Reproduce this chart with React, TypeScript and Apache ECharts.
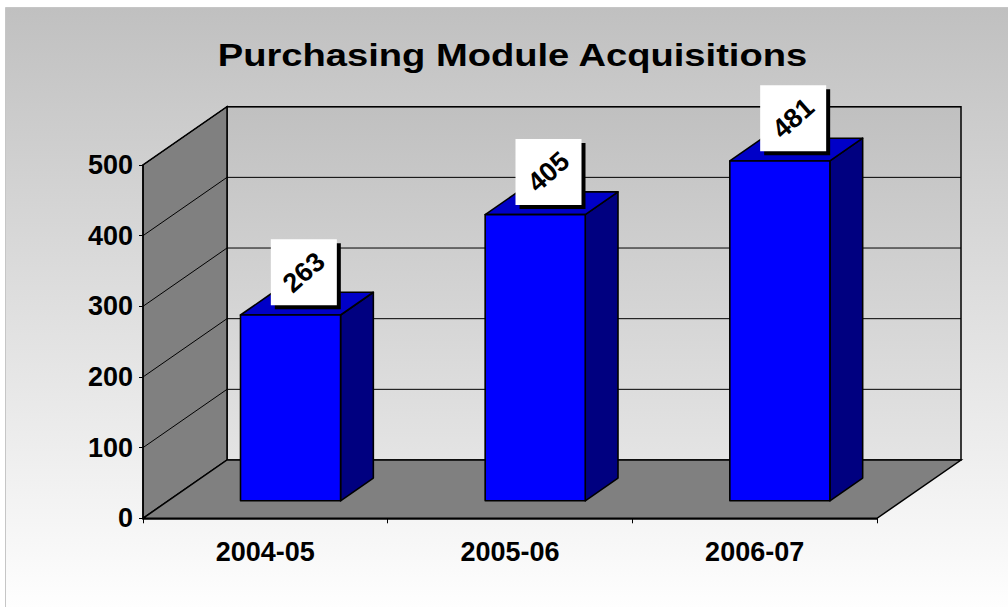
import React, { useEffect, useRef } from "react";
import * as echarts from "echarts";

const categories = ["2004-05", "2005-06", "2006-07"];
const acquisitions = [263, 405, 481];
const yTicks = [0, 100, 200, 300, 400, 500];
const titleText = "Purchasing Module Acquisitions";

const FONT = '"Liberation Sans", Arial, Helvetica, sans-serif';
const DX = 84; // depth offset x
const DY = -58.3; // depth offset y
const Z_FRONT = 0.3;
const Z_BACK = 0.69;
const HALF_BAR = 0.2045; // fraction of category width

export default function App() {
  const ref = useRef<HTMLDivElement>(null);

  useEffect(() => {
    if (!ref.current) return;
    const chart = echarts.init(ref.current, null, { renderer: "svg" });

    const p = (x: number, y: number, z: number) => [x + z * DX, y + z * DY];

    const wallsRender = (params: any, api: any) => {
      const cs = params.coordSys;
      const x0 = cs.x;
      const x1 = cs.x + cs.width;
      const yBottom = api.coord([0, 0])[1];
      const yTop = api.coord([0, yTicks[yTicks.length - 1]])[1];
      const children: any[] = [];
      children.push({
        type: "polygon",
        shape: { points: [p(x0, yTop, 1), p(x1, yTop, 1), p(x1, yBottom, 1), p(x0, yBottom, 1)] },
        style: {
          fill: {
            type: "linear", x: 0, y: 0, x2: 0, y2: 1,
            colorStops: [{ offset: 0, color: "#c0c0c0" }, { offset: 1, color: "#e4e4e4" }],
          },
          stroke: "#000", lineWidth: 1.5,
        },
      });
      children.push({
        type: "polygon",
        shape: { points: [p(x0, yBottom, 0), p(x0, yTop, 0), p(x0, yTop, 1), p(x0, yBottom, 1)] },
        style: { fill: "#808080", stroke: "#000", lineWidth: 1.5 },
      });
      children.push({
        type: "polygon",
        shape: { points: [p(x0, yBottom, 0), p(x1, yBottom, 0), p(x1, yBottom, 1), p(x0, yBottom, 1)] },
        style: { fill: "#808080", stroke: "#000", lineWidth: 1.5 },
      });
      yTicks.forEach((v) => {
        if (v === 0) return;
        const y = api.coord([0, v])[1];
        children.push({
          type: "polyline",
          shape: { points: [p(x0, y, 0), p(x0, y, 1), p(x1, y, 1)] },
          style: { stroke: "#000", lineWidth: 1, fill: "none" },
        });
      });
      return { type: "group", children };
    };

    const barsRender = (params: any, api: any) => {
      const idx = api.value(0);
      const val = api.value(1);
      const catW = api.size([1, 0])[0];
      const hw = catW * HALF_BAR;
      const top = api.coord([idx, val]);
      const base = api.coord([idx, 0]);
      const cx = top[0];
      const lx = cx - hw;
      const rx = cx + hw;
      const ty = top[1];
      const by = base[1];
      const stroke = { stroke: "#000", lineWidth: 1.6, lineJoin: "round" };
      const front = {
        type: "polygon",
        shape: { points: [p(lx, ty, Z_FRONT), p(rx, ty, Z_FRONT), p(rx, by, Z_FRONT), p(lx, by, Z_FRONT)] },
        style: { fill: "#0000ff", ...stroke },
      };
      const side = {
        type: "polygon",
        shape: { points: [p(rx, ty, Z_FRONT), p(rx, ty, Z_BACK), p(rx, by, Z_BACK), p(rx, by, Z_FRONT)] },
        style: { fill: "#000080", ...stroke },
      };
      const topFace = {
        type: "polygon",
        shape: { points: [p(lx, ty, Z_FRONT), p(rx, ty, Z_FRONT), p(rx, ty, Z_BACK), p(lx, ty, Z_BACK)] },
        style: { fill: "#0000c8", ...stroke },
      };
      const mid = p(cx, ty, 0.5);
      const lcx = mid[0] - 3.5;
      const lcy = mid[1] - 31;
      const box = 66;
      const shadow = {
        type: "rect",
        shape: { x: lcx - box / 2 + 4, y: lcy - box / 2 + 4, width: box, height: box },
        style: { fill: "#000" },
      };
      const white = {
        type: "rect",
        shape: { x: lcx - box / 2, y: lcy - box / 2, width: box, height: box },
        style: { fill: "#fff" },
      };
      const label = {
        type: "text",
        x: lcx,
        y: lcy,
        rotation: 0.72,
        style: {
          text: String(val),
          font: `bold 27px ${FONT}`,
          fill: "#000",
          align: "center",
          verticalAlign: "middle",
        },
      };
      return { type: "group", children: [side, topFace, front, shadow, white, label] };
    };

    chart.setOption({
      animation: false,
      graphic: [
        {
          type: "rect",
          z: -10,
          shape: { x: 5.5, y: 7.5, width: 1010, height: 610 },
          style: {
            fill: {
              type: "linear", x: 0, y: 0, x2: 0, y2: 1,
              colorStops: [{ offset: 0, color: "#c0c0c0" }, { offset: 1, color: "#ffffff" }],
            },
            stroke: "#c6c6c6",
            lineWidth: 1,
          },
        },
        {
          type: "text",
          z: 10,
          x: 512.5,
          y: 55,
          scaleX: 1.23,
          style: {
            text: titleText,
            font: `bold 31px ${FONT}`,
            fill: "#000",
            align: "center",
            verticalAlign: "middle",
          },
        },
      ],
      grid: { left: 143, top: 165, width: 734, height: 353.3 },
      xAxis: {
        type: "category",
        data: categories,
        z: 5,
        axisLine: { show: true, lineStyle: { color: "#000", width: 1.5 } },
        axisTick: { show: true, length: 5, lineStyle: { color: "#000", width: 1 } },
        axisLabel: {
          margin: 20,
          color: "#000",
          fontSize: 27,
          fontWeight: "bold",
          fontFamily: FONT,
        },
        splitLine: { show: false },
      },
      yAxis: {
        type: "value",
        min: 0,
        max: 500,
        interval: 100,
        z: 5,
        axisLine: { show: true, lineStyle: { color: "#000", width: 1.5 } },
        axisTick: { show: true, length: 4, lineStyle: { color: "#000", width: 1 } },
        axisLabel: {
          margin: 10,
          color: "#000",
          fontSize: 27,
          fontWeight: "bold",
          fontFamily: FONT,
        },
        splitLine: { show: false },
      },
      series: [
        {
          type: "custom",
          name: "walls",
          z: 1,
          silent: true,
          clip: false,
          renderItem: wallsRender,
          data: [[0, 0]],
        },
        {
          type: "custom",
          name: "Acquisitions",
          z: 2,
          clip: false,
          renderItem: barsRender,
          data: acquisitions.map((v, i) => [i, v]),
        },
      ],
    });

    return () => chart.dispose();
  }, []);

  return (
    <div
      ref={ref}
      style={{ position: "absolute", left: 0, top: 0, width: 1008, height: 607 }}
    />
  );
}
